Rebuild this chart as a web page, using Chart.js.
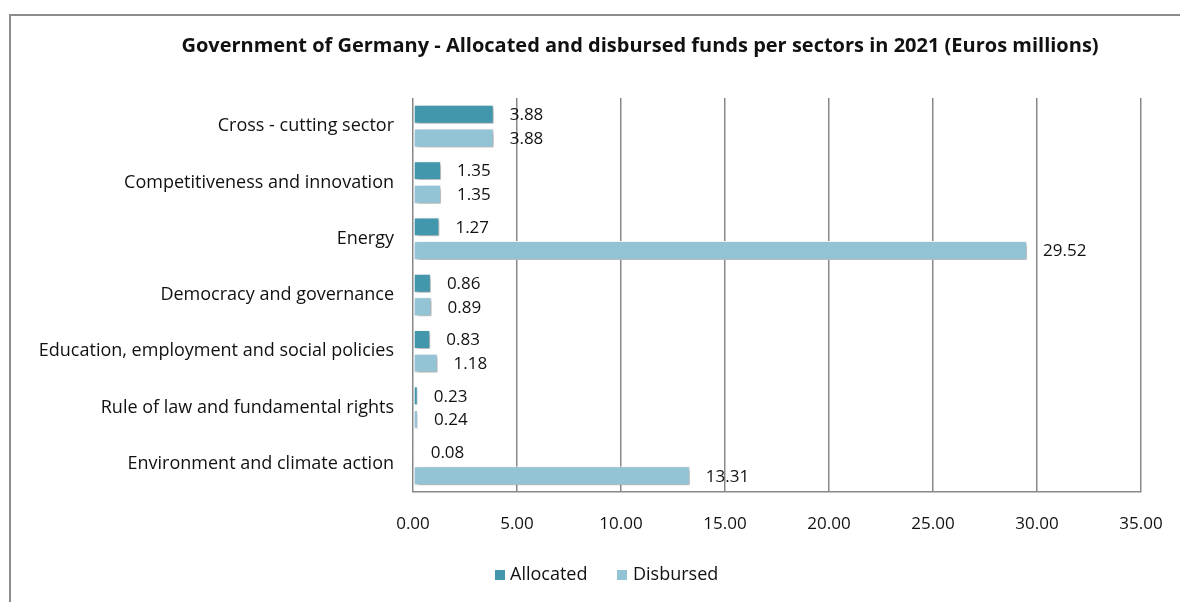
<!DOCTYPE html>
<html>
<head>
<meta charset="utf-8">
<script src="https://cdn.jsdelivr.net/npm/chart.js@4.4.0/dist/chart.umd.min.js"></script>
<style>
  html, body { margin: 0; padding: 0; background: #fff; overflow: hidden; }
  #wrap { width: 1180px; height: 602px; position: relative; }
</style>
</head>
<body>
<div id="wrap"><canvas id="fundsChart" width="1180" height="602"></canvas></div>
<script>
const sectors = [
    'Cross - cutting sector',
    'Competitiveness and innovation',
    'Energy',
    'Democracy and governance',
    'Education, employment and social policies',
    'Rule of law and fundamental rights',
    'Environment and climate action'
];
const allocated = [3.88, 1.35, 1.27, 0.86, 0.83, 0.23, 0.08];
const disbursed = [3.88, 1.35, 29.52, 0.89, 1.18, 0.24, 13.31];
const seriesNames = ['Allocated', 'Disbursed'];
const seriesColors = ['#4397ad', '#93c4d6'];
const chartTitle = 'Government of Germany - Allocated and disbursed funds per sectors in 2021 (Euros millions)';

const FONT = '"Open Sans", sans-serif';

// frame, shadows, value labels, title and legend
const decorations = {
    id: 'decorations',
    beforeDraw(chart) {
        const c = chart.ctx;
        c.save();
        c.strokeStyle = '#8c8c8c';
        c.lineWidth = 2;
        c.strokeRect(10, 15, 1300, 700);
        c.restore();
    },
    beforeDatasetsDraw(chart) {
        const c = chart.ctx;
        c.save();
        c.shadowColor = 'rgba(0,0,0,0.35)';
        c.shadowBlur = 4;
        c.shadowOffsetX = 2;
        c.shadowOffsetY = 2;
    },
    afterDatasetsDraw(chart) {
        const c = chart.ctx;
        c.restore();
        c.save();
        c.font = '17px ' + FONT;
        c.fillStyle = '#111';
        c.textBaseline = 'middle';
        c.textAlign = 'left';
        chart.data.datasets.forEach((ds, i) => {
            chart.getDatasetMeta(i).data.forEach((bar, j) => {
                c.fillText(ds.data[j].toFixed(2), bar.x + 16, bar.y + 1);
            });
        });
        c.restore();
    },
    afterDraw(chart) {
        const c = chart.ctx;
        c.save();
        c.font = 'bold 20px ' + FONT;
        c.fillStyle = '#111';
        c.textAlign = 'center';
        c.textBaseline = 'middle';
        c.fillText(chartTitle, 640, 46);

        c.font = '18px ' + FONT;
        c.textAlign = 'left';
        const items = [[495, 510], [617, 633]];
        seriesNames.forEach((name, i) => {
            c.fillStyle = seriesColors[i];
            c.fillRect(items[i][0], 570, 10, 10);
            c.fillStyle = '#111';
            c.fillText(name, items[i][1], 575);
        });
        c.restore();
    }
};

const ctx = document.getElementById('fundsChart').getContext('2d');
const myChart = new Chart(ctx, {
    type: 'bar',
    data: {
        labels: sectors,
        datasets: [
            {
                label: seriesNames[0],
                data: allocated,
                backgroundColor: seriesColors[0],
                borderColor: '#ffffff',
                borderWidth: 1,
                borderSkipped: false,
                categoryPercentage: 0.84,
                barPercentage: 0.8,
            },
            {
                label: seriesNames[1],
                data: disbursed,
                backgroundColor: seriesColors[1],
                borderColor: '#ffffff',
                borderWidth: 1,
                borderSkipped: false,
                categoryPercentage: 0.84,
                barPercentage: 0.8,
            }
        ]
    },
    options: {
        indexAxis: 'y',
        responsive: false,
        animation: false,
        layout: {
            padding: { left: 0, right: 39, top: 98, bottom: 60 }
        },
        plugins: {
            legend: { display: false },
            title: { display: false },
            tooltip: { enabled: false }
        },
        scales: {
            x: {
                min: 0,
                max: 35,
                afterFit: function(scale) {
                    scale.height = 50;
                    scale.paddingLeft = 0;
                    scale.paddingRight = 0;
                },
                grid: {
                    color: '#888888',
                    lineWidth: 1.5,
                    drawTicks: false
                },
                border: { display: true, color: '#888888', width: 1.5 },
                ticks: {
                    stepSize: 5,
                    padding: 22,
                    color: '#111',
                    font: { family: FONT, size: 17 },
                    callback: function(value) { return value.toFixed(2); }
                }
            },
            y: {
                afterFit: function(scale) { scale.width = 413; },
                grid: { display: false, drawTicks: false },
                border: { display: false },
                ticks: {
                    padding: 19,
                    color: '#111',
                    font: { family: FONT, size: 18 }
                }
            }
        }
    },
    plugins: [decorations]
});
</script>
</body>
</html>
